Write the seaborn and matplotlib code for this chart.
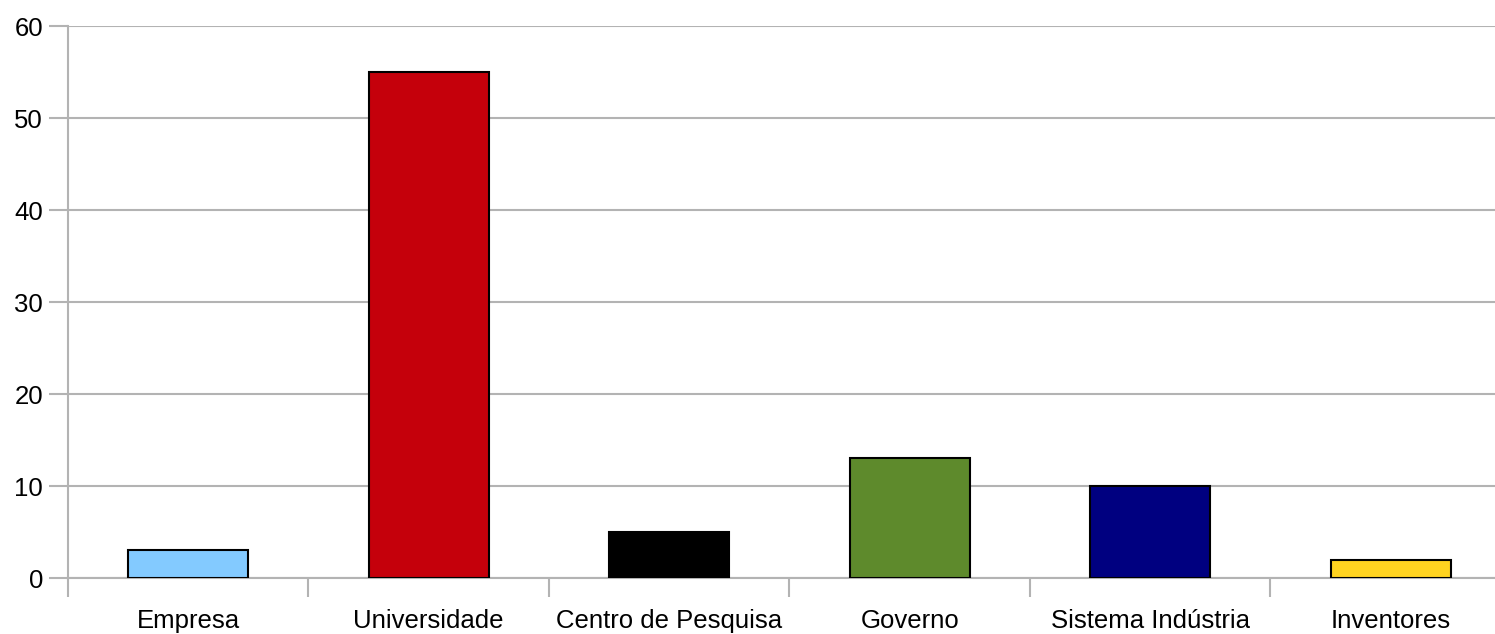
import numpy as np
import pandas as pd
import matplotlib
matplotlib.use("Agg")
import matplotlib.pyplot as plt
import seaborn as sns

categorias = ["Empresa", "Universidade", "Centro de Pesquisa", "Governo",
              "Sistema Indústria", "Inventores"]
valores = [3, 55, 5, 13, 10, 2]
cores = ["#83caff", "#c5000b", "#000000", "#5e8a2c", "#000080", "#ffd320"]
yticks = [0, 10, 20, 30, 40, 50, 60]

sns.set_style("white")
plt.rcParams['font.family'] = ['Liberation Sans', 'DejaVu Sans']

df = pd.DataFrame({"cat": categorias, "val": valores})

fig = plt.figure(figsize=(14.95, 6.34), dpi=100)
ax = fig.add_axes([68 / 1495, 56 / 634, 1443 / 1495, 552 / 634])

sns.barplot(data=df, x="cat", y="val", hue="cat", palette=cores, ax=ax,
            width=0.5, saturation=1, edgecolor="black", linewidth=1.5,
            legend=False, zorder=3)

grid = "#b3b3b3"
ax.set_ylim(0, 60)
ax.set_yticks(yticks)
ax.set_xlim(-0.5, len(categorias) - 0.5)
ax.yaxis.grid(True, color=grid, lw=1.5, zorder=0)
ax.set_xlabel("")
ax.set_ylabel("")

for s in ["top", "right"]:
    ax.spines[s].set_visible(False)
for s in ["left", "bottom"]:
    ax.spines[s].set_color(grid)
    ax.spines[s].set_linewidth(1.5)

ax.set_xticks(np.arange(len(categorias) + 1) - 0.5, minor=True)
ax.tick_params(axis="x", which="major", bottom=True, length=0, pad=22,
               labelsize=18.5, labelcolor="black")
ax.tick_params(axis="x", which="minor", bottom=True, length=14, width=1.5,
               color=grid)
ax.tick_params(axis="y", which="major", left=True, length=14, width=1.5,
               color=grid, labelsize=18.5, labelcolor="black", pad=4)
ax.set_axisbelow(True)

fig.savefig("out.png", dpi=100)
